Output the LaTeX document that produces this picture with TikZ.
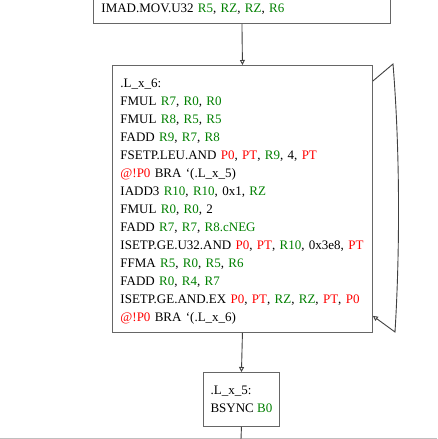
\documentclass[tikz,border=0pt]{standalone}
\usepackage{fontspec}
\setmainfont{Liberation Serif}
\usetikzlibrary{arrows.meta,calc}
\definecolor{regg}{RGB}{0,128,0}
\definecolor{prd}{RGB}{255,0,0}
\newcommand{\rg}[1]{{\color{regg}#1}}
\newcommand{\pr}[1]{{\color{prd}#1}}
\newcommand{\bq}{\symbol{96}}
\begin{document}
\begin{tikzpicture}[
  box/.style={draw=black!60, line width=0.9pt, fill=white, align=left, inner xsep=8pt, inner ysep=0pt,
    font=\fontsize{13}{18}\selectfont},
  edge/.style={draw=black!75, line width=0.9pt, -{Triangle[open,length=5pt,width=5pt]}},
  plain/.style={draw=black!75, line width=0.9pt}]
\useasboundingbox (0pt,0pt) rectangle (437pt,-439pt);
\fill[white] (0pt,0pt) rectangle (437pt,-439pt);
\draw[black!25, line width=1pt] (0pt,-438pt) -- (437pt,-438pt);
\node[box, anchor=south west, minimum width=297pt, text width=281pt, text height=9pt, text depth=3pt,
  inner ysep=8.5pt] (top) at (93pt,-24pt)
  {IMAD.MOV.U32 \rg{R5}, \rg{RZ}, \rg{RZ}, \rg{R6}};
\node[box, anchor=north west, minimum width=260pt, minimum height=267pt, text width=244pt] (main) at (112pt,-65pt)
  {\rule{0pt}{14pt}.L\_x\_6:\\
   FMUL \rg{R7}, \rg{R0}, \rg{R0}\\
   FMUL \rg{R8}, \rg{R5}, \rg{R5}\\
   FADD \rg{R9}, \rg{R7}, \rg{R8}\\
   FSETP.LEU.AND \pr{P0}, \pr{PT}, \rg{R9}, 4, \pr{PT}\\
   \pr{@!P0} BRA \bq(.L\_x\_5)\\
   IADD3 \rg{R10}, \rg{R10}, 0x1, \rg{RZ}\\
   FMUL \rg{R0}, \rg{R0}, 2\\
   FADD \rg{R7}, \rg{R7}, \rg{R8.cNEG}\\
   ISETP.GE.U32.AND \pr{P0}, \pr{PT}, \rg{R10}, 0x3e8, \pr{PT}\\
   FFMA \rg{R5}, \rg{R0}, \rg{R5}, \rg{R6}\\
   FADD \rg{R0}, \rg{R4}, \rg{R7}\\
   ISETP.GE.AND.EX \pr{P0}, \pr{PT}, \rg{RZ}, \rg{RZ}, \pr{PT}, \pr{P0}\\
   \pr{@!P0} BRA \bq(.L\_x\_6)};
\node[box, anchor=north west, minimum width=76pt, minimum height=54pt, inner xsep=4pt] (l5) at (203pt,-372pt)
  {.L\_x\_5:\\ BSYNC \rg{B0}};
\coordinate (bot) at (241pt,-439pt);
\coordinate (lstart) at ($(main.north east)+(0pt,-16pt)$);
\coordinate (lend) at ($(main.south east)+(0pt,17pt)$);
\coordinate (c1) at (393pt,-64pt);
\coordinate (c2) at (395pt,-332pt);
\draw[edge] (top.south) -- (main.north);
\draw[edge] (main.south) -- (l5.north);
\draw[plain] (l5.south) -- (bot);
\draw[edge] (lstart) -- (c1) .. controls (400pt,-150pt) and (400pt,-250pt) .. (c2) -- (lend);
\end{tikzpicture}
\end{document}
